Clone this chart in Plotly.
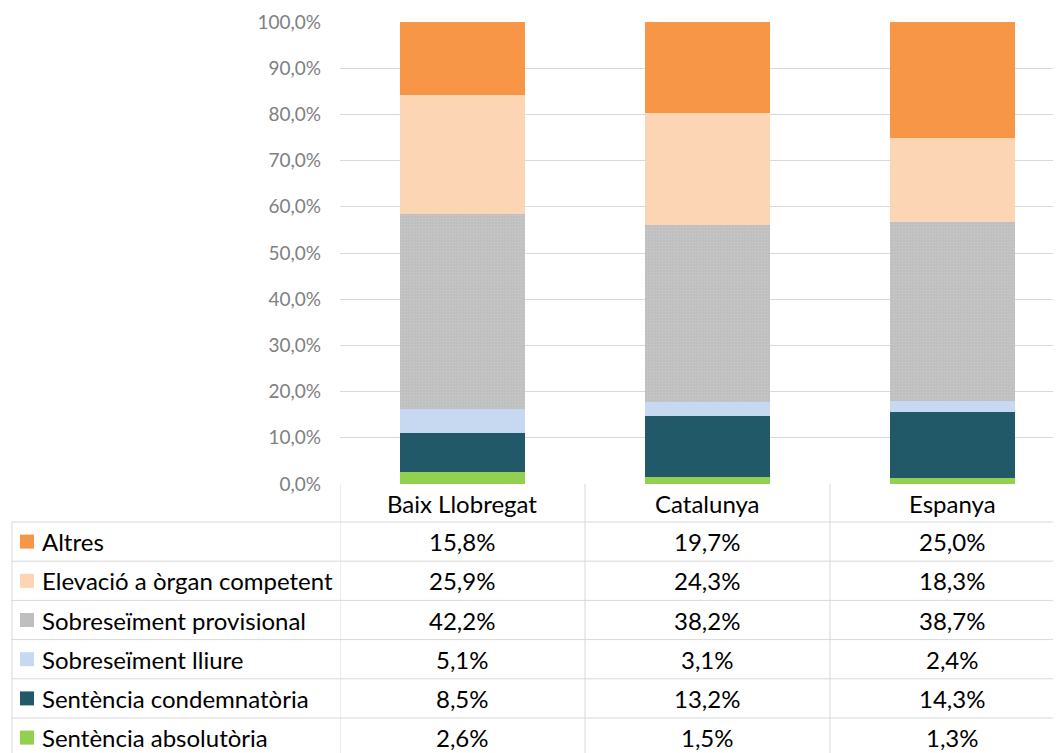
import plotly.graph_objects as go

categories = ["Baix Llobregat", "Catalunya", "Espanya"]

# bottom to top of the stack
series_names = [
    "Sentència absolutòria",
    "Sentència condemnatòria",
    "Sobreseïment lliure",
    "Sobreseïment provisional",
    "Elevació a òrgan competent",
    "Altres",
]
absolutoria = [2.6, 1.5, 1.3]
condemnatoria = [8.5, 13.2, 14.3]
lliure = [5.1, 3.1, 2.4]
provisional = [42.2, 38.2, 38.7]
elevacio = [25.9, 24.3, 18.3]
altres = [15.8, 19.7, 25.0]
series_values = [absolutoria, condemnatoria, lliure, provisional, elevacio, altres]

colors = ["#92D050", "#215968", "#C6D9F1", "#BFBFBF", "#FCD5B5", "#F79646"]

tick_vals = [i / 10 for i in range(11)]

FONT = "Lato, 'Open Sans', sans-serif"
GRID = "#d9d9d9"

fig = go.Figure()
for name, vals, col in zip(series_names, series_values, colors):
    pattern = None
    if name == "Sobreseïment provisional":
        pattern = dict(shape=".", fgcolor="#d4d4d4", bgcolor=col, size=3, solidity=0.25)
    fig.add_trace(go.Bar(
        x=categories, y=[v / 100 for v in vals], name=name,
        marker=dict(color=col, line=dict(width=0), pattern=pattern),
        width=0.51, showlegend=False,
    ))

# data table under the chart (page body has an 8px margin)
plot_h = 462
row_px = 39.2
def py(px_from_zero):
    return -px_from_zero / plot_h

shapes = []
line = dict(color=GRID, width=1)
for k in range(1, 7):
    yy = py(38 + (k - 1) * row_px)
    shapes.append(dict(type="line", xref="paper", yref="paper",
                       x0=-0.455, x1=1, y0=yy, y1=yy, line=line))
for xv in [-0.5, 0.5, 1.5]:
    shapes.append(dict(type="line", xref="x", yref="paper", x0=xv, x1=xv,
                       y0=0, y1=py(300), line=line))
shapes.append(dict(type="line", xref="paper", yref="paper", x0=-0.455, x1=-0.455,
                   y0=py(38), y1=py(300), line=line))

tfont = dict(size=24, color="#000000", family=FONT)
annotations = []
for c in categories:
    annotations.append(dict(x=c, xref="x", y=py(19), yref="paper", text=c, showarrow=False,
                            yanchor="middle", font=tfont))

# table rows are listed top to bottom (reverse of stack)
for r, i in enumerate(reversed(range(len(series_names)))):
    yc = py(38 + r * row_px + row_px / 2)
    annotations.append(dict(x=-0.416, xref="paper", y=yc, yref="paper", text=series_names[i],
                            showarrow=False, xanchor="left", yanchor="middle", font=tfont))
    half = 7 / plot_h
    shapes.append(dict(type="rect", xref="paper", yref="paper",
                       x0=-0.4438, x1=-0.4244, y0=yc - half, y1=yc + half,
                       fillcolor=colors[i], line=dict(width=0)))
    for c, v in zip(categories, series_values[i]):
        annotations.append(dict(x=c, xref="x", y=yc, yref="paper",
                                text=f"{v:.1f}%".replace(".", ","), showarrow=False,
                                yanchor="middle", font=tfont))

fig.update_layout(
    width=1053, height=745,
    barmode="stack", bargap=0,
    separators=", ",
    plot_bgcolor="white", paper_bgcolor="white",
    margin=dict(l=332, r=0, t=14, b=269, autoexpand=False),
    xaxis=dict(range=[-0.5, 2.443], showticklabels=False, showgrid=False, zeroline=False,
               showline=False, fixedrange=True),
    yaxis=dict(range=[0, 1], tickvals=tick_vals, tickformat=".1%", showgrid=True,
               gridcolor=GRID, gridwidth=1, zeroline=False, showline=False,
               tickfont=dict(size=19, color="#808080", family=FONT), ticklabelstandoff=18),
    shapes=shapes,
    annotations=annotations,
    font=dict(family=FONT),
)

fig.write_html("out.html")
